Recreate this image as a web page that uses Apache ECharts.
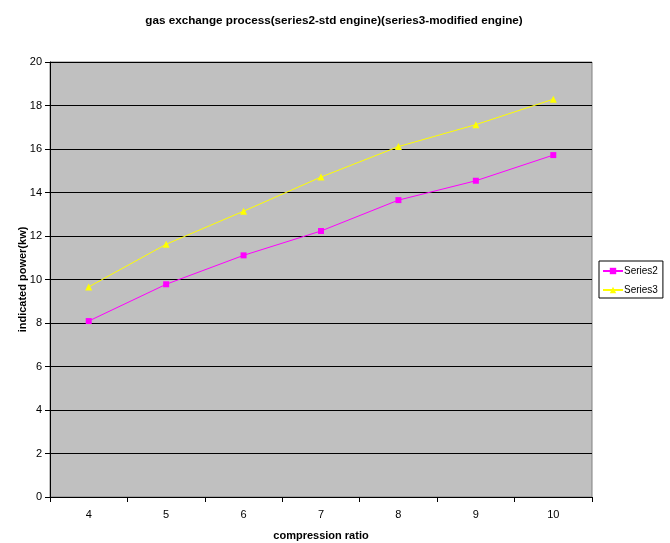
<!DOCTYPE html>
<html>
<head>
<meta charset="utf-8">
<script src="https://cdn.jsdelivr.net/npm/echarts@6/dist/echarts.min.js"></script>
<style>html,body{margin:0;padding:0;background:#fff}#c{width:670px;height:543px}</style>
</head>
<body>
<div id="c"></div>
<script>
var categories = ['4', '5', '6', '7', '8', '9', '10'];
var series2 = [8.09, 9.78, 11.11, 12.23, 13.65, 14.54, 15.72];
var series3 = [9.66, 11.62, 13.14, 14.71, 16.11, 17.12, 18.29];
var yTicks = { min: 0, max: 20, interval: 2 };

var font = 'Liberation Sans, Arial, sans-serif';
var chart = echarts.init(document.getElementById('c'));
chart.setOption({
  animation: false,
  backgroundColor: '#fff',
  title: {
    text: 'gas exchange process(series2-std engine)(series3-modified engine)',
    left: 329, top: 10, textAlign: 'center',
    textStyle: { fontFamily: font, fontSize: 11.7, fontWeight: 'bold', color: '#000' }
  },
  legend: {
    orient: 'vertical', left: 599, top: 261,
    borderColor: '#000', borderWidth: 1, borderRadius: 0,
    padding: [4, 5, 2, 3], itemGap: 7, itemWidth: 20, itemHeight: 8,
    textStyle: { fontFamily: font, fontSize: 10, lineHeight: 12, color: '#000', padding: [0, 0, 0, -4] },
    data: ['Series2', 'Series3']
  },
  grid: {
    left: 50, right: 78, top: 62, bottom: 46,
    outerBoundsMode: 'none',
    show: true, backgroundColor: '#c0c0c0', borderColor: '#808080', borderWidth: 1
  },
  xAxis: {
    type: 'category', data: categories, boundaryGap: true,
    name: 'compression ratio', nameLocation: 'middle', nameGap: 33, nameMoveOverlap: false,
    nameTextStyle: { fontFamily: font, fontSize: 11, fontWeight: 'bold', color: '#000' },
    axisLine: { lineStyle: { color: '#000', width: 1 } },
    axisTick: { show: true, length: 5, lineStyle: { color: '#000' } },
    axisLabel: { fontFamily: font, fontSize: 11, color: '#000', margin: 12 },
    splitLine: { show: false }
  },
  yAxis: {
    type: 'value', min: yTicks.min, max: yTicks.max, interval: yTicks.interval,
    name: 'indicated power(kw)', nameLocation: 'middle', nameGap: 22, nameMoveOverlap: false,
    nameTextStyle: { fontFamily: font, fontSize: 11, fontWeight: 'bold', color: '#000' },
    axisLine: { show: true, lineStyle: { color: '#000', width: 1 } },
    axisTick: { show: true, length: 5, lineStyle: { color: '#000' } },
    axisLabel: { fontFamily: font, fontSize: 11, color: '#000', margin: 8 },
    splitLine: { show: true, lineStyle: { color: '#000', width: 1 } }
  },
  series: [
    {
      name: 'Series2', type: 'line', data: series2,
      symbol: 'rect', symbolSize: 6, showAllSymbol: true,
      itemStyle: { color: '#ff00ff' },
      lineStyle: { color: '#ff00ff', width: 1 }
    },
    {
      name: 'Series3', type: 'line', data: series3,
      symbol: 'triangle', symbolSize: 7, showAllSymbol: true,
      itemStyle: { color: '#ffff00' },
      lineStyle: { color: '#ffff00', width: 1 }
    }
  ]
});
</script>
</body>
</html>
